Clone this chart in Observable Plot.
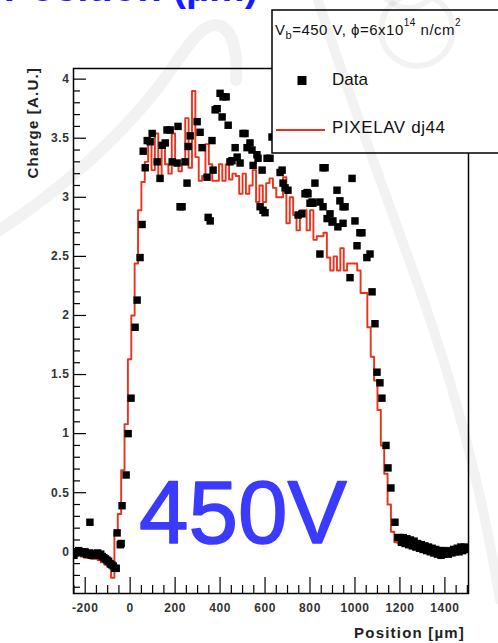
<!DOCTYPE html>
<html><head><meta charset="utf-8">
<script src="https://cdn.jsdelivr.net/npm/d3@7"></script>
<script src="https://cdn.jsdelivr.net/npm/@observablehq/plot@0.6"></script>
<style>
body{margin:0;background:#fff;}
#chart{position:relative;width:498px;height:643px;overflow:hidden;background:#fff;}
</style></head><body><div id="chart"></div>
<script>
// ---- data ----
const xDomain = [-252, 1505];
const yDomain = [-0.353, 4.09];
const xTickLabels = [-200, 0, 200, 400, 600, 800, 1000, 1200, 1400];
const yTickLabels = [0, 0.5, 1, 1.5, 2, 2.5, 3, 3.5, 4];

const dataX = [
-250,-243,-236,-229,-222,-215,-208,-201,-194,-187,-180,-173,-166,-159,-152,-145,-138,-131,-124,-117,-110,-103,-96,-89,-82,-75,-68,-179,
-62,-58,-44,-40,-36,-18,-9,4,22,31,
44,53,58,67,76,89,98,133,142,156,
164,178,187,213,222,231,244,253,258,298,
311,342,347,356,364,369,378,387,400,409,
413,427,436,444,453,467,476,489,502,511,
520,533,542,547,564,569,578,587,591,600,
609,622,631,667,676,680,689,702,747,764,
778,787,791,800,809,813,822,844,844,858,
858,867,876,889,898,902,920,924,933,947,
947,956,978,987,1000,1009,1022,1031,1053,1067,
1076,1089,1098,1111,1120,1138,1147,1160,1178,1191,
1199,1207,1215,1223,1231,1239,1247,1255,1263,1271,1279,1287,1295,1303,1311,1319,1327,1335,1343,1351,
1359,1367,1375,1383,1391,1399,1407,1415,1423,1431,1439,1447,1455,1463,1471,1479,1487,1495,
320,267,209,120
];
const dataY = [
-0.03,-0.01,0.0,0.01,0.0,0.0,-0.01,0.0,-0.02,-0.02,-0.01,-0.03,-0.02,-0.03,-0.02,-0.01,-0.03,-0.02,-0.04,-0.05,-0.06,-0.07,-0.08,-0.1,-0.11,-0.12,-0.14,0.25,
-0.14,0.16,0.06,0.07,0.39,0.65,1.0,1.3,1.9,2.13,
2.49,2.77,3.39,3.25,3.48,3.47,3.54,3.16,3.44,3.46,
3.57,3.57,3.3,3.6,2.92,2.92,3.3,3.12,3.43,3.64,
3.55,3.17,2.83,2.8,3.48,3.23,3.74,3.75,3.88,3.68,
3.85,3.85,3.61,3.3,3.31,3.42,3.34,3.29,3.54,3.54,
3.42,3.46,3.4,3.27,3.36,3.33,2.92,3.23,2.89,2.87,
3.33,3.33,3.51,3.21,3.23,3.12,3.08,3.06,2.85,2.86,
3.03,3.04,3.03,2.95,2.96,2.95,3.12,2.96,2.52,2.92,
3.25,3.25,2.82,2.86,2.79,2.8,3.06,2.75,2.97,2.92,
2.78,2.92,2.32,3.16,2.8,2.59,2.7,2.7,2.49,2.52,
2.2,1.93,1.52,1.43,1.3,0.9,0.71,0.54,0.25,0.12,
0.12,0.08,0.12,0.07,0.11,0.06,0.1,0.05,0.09,0.04,0.07,0.03,0.06,0.02,0.05,0.01,0.04,0.0,0.03,-0.01,
0.02,-0.02,0.01,-0.03,0.01,-0.02,0.0,-0.02,0.01,-0.01,0.02,0.0,0.03,0.0,0.04,0.01,0.04,0.02,
3.42,3.52,3.29,3.3
];

// PIXELAV simulation histogram: first bin edge, bin width, bin contents
const simStart = -265;
const simBinWidth = 15;
const simValues = [
-0.01,-0.02,-0.03,-0.04,-0.05,-0.05,-0.06,-0.06,-0.07,-0.09,-0.11,-0.13,-0.22,0.16,0.32,0.69,1.08,1.63,2.0,2.44,2.89,3.13,
3.3,3.48,3.23,3.54,3.14,3.45,3.28,3.2,3.54,3.3,
3.22,3.28,3.67,3.25,3.9,3.34,3.14,3.18,3.45,3.28,
3.14,3.14,3.28,3.14,3.28,3.15,3.2,3.18,3.03,3.2,
3.03,3.1,3.23,2.96,3.1,2.96,3.12,3.16,3.08,3.0,
3.0,3.17,2.78,3.0,2.85,2.72,2.89,2.89,2.72,2.89,
2.64,2.67,2.67,2.7,2.49,2.38,2.5,2.38,2.57,2.38,
2.44,2.44,2.44,2.38,2.19,2.19,1.9,1.65,1.45,1.2,
0.9,0.66,0.4,0.17,0.08,
0.07,0.07,0.06,0.05,0.05,0.04,0.05,0.02,0.04,0.0,0.03,-0.01,0.02,0.0,-0.01,0.01,-0.01,0.02,0.01,0.03,0.02,0.03
];

// ---- build ----
const W = 498, H = 643, mL = 73, mR = 30, mT = 68, mB = 50;
const plotW = W - mL - mR, plotH = H - mT - mB;
const sim = simValues.map((v, i) => ({x: simStart + i * simBinWidth, y: v}));
sim.push({x: simStart + simValues.length * simBinWidth, y: simValues[simValues.length - 1]});
const data = dataX.map((x, i) => ({x, y: dataY[i]}));

const xMinor = d3.range(-250, 1501, 50).filter(v => !xTickLabels.includes(v));
const yMinor = d3.range(-3, 41).map(v => v / 10).filter(v => !yTickLabels.includes(v));

const font = "'Liberation Sans', Arial, Helvetica, sans-serif";
const chart = Plot.plot({
  width: W, height: H,
  marginLeft: mL, marginRight: mR, marginTop: mT, marginBottom: mB,
  x: {domain: xDomain},
  y: {domain: yDomain},
  style: {fontFamily: font, fontSize: "12px", color: "#222", background: "transparent", overflow: "visible"},
  marks: [
    Plot.line(sim, {x: "x", y: "y", curve: "step-after", stroke: "#e8341c", strokeWidth: 1.9, clip: true}),
    Plot.dot(data, {x: "x", y: "y", symbol: "square", r: 4.2, fill: "#000", stroke: "none", clip: true}),
    Plot.tickX(xMinor, {x: d => d, insetTop: plotH - 8, stroke: "#000", strokeWidth: 1.2}),
    Plot.tickX(xTickLabels, {x: d => d, insetTop: plotH - 16, stroke: "#000", strokeWidth: 1.2}),
    Plot.tickY(yMinor, {y: d => d, insetRight: plotW - 7, stroke: "#000", strokeWidth: 1.2}),
    Plot.tickY(yTickLabels, {y: d => d, insetRight: plotW - 13, stroke: "#000", strokeWidth: 1.2}),
    Plot.axisX({ticks: xTickLabels, tickSize: 0, tickPadding: 10, tickFormat: d => String(d), label: null, fontWeight: "bold", fill: "#333"}),
    Plot.axisY({ticks: yTickLabels, tickSize: 0, tickPadding: 4, tickFormat: d => String(d), label: null, fontWeight: "bold", fill: "#333"}),
    Plot.frame({stroke: "#000", strokeWidth: 1.5})
  ]
});
chart.style.position = "absolute";
chart.style.left = "0px";
chart.style.top = "0px";
document.getElementById("chart").appendChild(chart);

const svg = d3.select(chart);
chart.querySelectorAll("text").forEach(t => t.setAttribute("letter-spacing", "0.6"));

function txt(parent, x, y, anchor) {
  return parent.append("text").attr("x", x).attr("y", y).attr("text-anchor", anchor)
    .attr("font-family", font).attr("dominant-baseline", "auto");
}

// axis titles
svg.append("text").attr("transform", "translate(38,67) rotate(-90)")
  .attr("text-anchor", "end").attr("font-family", font).attr("font-size", 15)
  .attr("font-weight", "bold").attr("letter-spacing", 1.2).attr("fill", "#222")
  .text("Charge [A.U.]");
txt(svg, 465, 638, "end").attr("font-size", 15)
  .attr("font-weight", "bold").attr("letter-spacing", 1.2).attr("fill", "#222")
  .text("Position [µm]");

// legend box
const lg = svg.append("g");
lg.append("rect").attr("x", 272).attr("y", 10).attr("width", 240).attr("height", 143)
  .attr("fill", "#fff").attr("stroke", "#000").attr("stroke-width", 1.5);
const head = txt(lg, 275, 35, "start").attr("font-size", 15).attr("letter-spacing", 0.5).attr("fill", "#111");
head.append("tspan").text("V");
head.append("tspan").attr("font-size", 11).attr("dy", 4).text("b");
head.append("tspan").attr("dy", -4).text("=450 V, ϕ=6x10");
head.append("tspan").attr("font-size", 10).attr("dy", -9).text("14");
head.append("tspan").attr("dy", 9).text(" n/cm");
head.append("tspan").attr("font-size", 10).attr("dy", -9).text("2");
lg.append("rect").attr("x", 297.5).attr("y", 76).attr("width", 9).attr("height", 9).attr("fill", "#000");
txt(lg, 332, 85, "start").attr("font-size", 17).attr("fill", "#111").text("Data");
lg.append("line").attr("x1", 276).attr("x2", 325).attr("y1", 130).attr("y2", 130)
  .attr("stroke", "#e8341c").attr("stroke-width", 1.9);
txt(lg, 332, 133, "start").attr("font-size", 17).attr("letter-spacing", 0.6).attr("fill", "#111").text("PIXELAV dj44");

// slide overlay: faint background swooshes
const wm = svg.append("g").attr("fill", "none").attr("stroke", "rgba(0,0,0,0.05)").attr("stroke-linecap", "round");
wm.append("path").attr("stroke-width", 12)
  .attr("d", "M -10 236 C 40 205, 110 150, 160 85 C 185 50, 200 25, 215 25 C 232 25, 238 50, 236 80");
wm.append("path").attr("stroke-width", 10)
  .attr("d", "M 318 0 C 340 70, 380 180, 420 290 C 455 390, 480 480, 500 600");
wm.append("circle").attr("cx", 408).attr("cy", -22).attr("r", 30).attr("stroke-width", 6);
wm.append("circle").attr("cx", 417).attr("cy", 30).attr("r", 36).attr("stroke-width", 6);

// slide annotations
txt(svg, 258, 1, "end").attr("font-size", 40).attr("font-weight", "bold")
  .attr("fill", "#1a1aff").text("Position (µm)");
txt(svg, 139, 543, "start").attr("font-size", 89).attr("fill", "#3b3bff")
  .attr("stroke", "#3b3bff").attr("stroke-width", 1.5).attr("stroke-linejoin", "round")
  .text("450V");
</script></body></html>
